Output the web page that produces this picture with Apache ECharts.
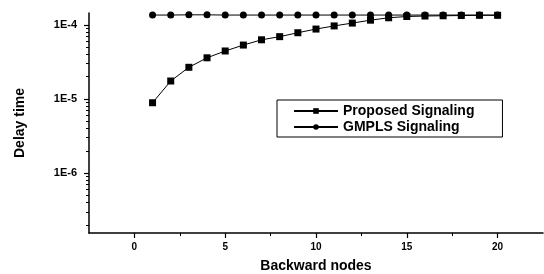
<!DOCTYPE html>
<html>
<head>
<meta charset="utf-8">
<script src="https://cdn.jsdelivr.net/npm/echarts@6/dist/echarts.min.js"></script>
<style>
    html, body { margin: 0; padding: 0; background: #fff; }
    #chart { width: 544px; height: 274px; }
</style>
</head>
<body>
<div id="chart"></div>
<script>
    // 数据
    var nodes = [1, 2, 3, 4, 5, 6, 7, 8, 9, 10, 11, 12, 13, 14, 15, 16, 17, 18, 19, 20];
    var proposed = [8.9e-6, 1.75e-5, 2.68e-5, 3.6e-5, 4.45e-5, 5.35e-5, 6.3e-5, 6.95e-5, 7.85e-5, 8.8e-5,
        9.7e-5, 1.06e-4, 1.16e-4, 1.25e-4, 1.3e-4, 1.32e-4, 1.33e-4, 1.34e-4, 1.35e-4, 1.35e-4];
    var gmpls = [1.36e-4, 1.36e-4, 1.37e-4, 1.37e-4, 1.36e-4, 1.36e-4, 1.36e-4, 1.36e-4, 1.36e-4, 1.36e-4,
        1.36e-4, 1.36e-4, 1.36e-4, 1.36e-4, 1.36e-4, 1.36e-4, 1.36e-4, 1.36e-4, 1.36e-4, 1.36e-4];
    var xMajorTicks = [0, 5, 10, 15, 20];
    var xMinorTicks = [2.5, 7.5, 12.5, 17.5];
    var yMajorTicks = [1e-6, 1e-5, 1e-4];
    var yMinorTicks = [2e-7, 3e-7, 4e-7, 5e-7, 6e-7, 7e-7, 8e-7, 9e-7,
        2e-6, 3e-6, 4e-6, 5e-6, 6e-6, 7e-6, 8e-6, 9e-6,
        2e-5, 3e-5, 4e-5, 5e-5, 6e-5, 7e-5, 8e-5, 9e-5];

    var font = 'Liberation Sans, Arial, sans-serif';
    var xMin = -2.5, xMax = 22.5;
    var yMin = 1.55e-7, yMax = 1.45e-4;

    var myChart = echarts.init(document.getElementById('chart'));

    var xy = function(ys) {
        return nodes.map(function(n, i) { return [n, ys[i]]; });
    };

    var option = {
        animation: false,
        backgroundColor: '#fff',
        grid: {
            left: 89,
            top: 13,
            right: 1,
            bottom: 41,
            outerBoundsMode: 'none'
        },
        legend: {
            left: 277,
            top: 100,
            orient: 'vertical',
            data: ['Proposed Signaling', 'GMPLS Signaling'],
            itemWidth: 44,
            itemHeight: 7,
            itemGap: 2,
            padding: [4, 28, 3, 16],
            borderColor: '#000',
            borderWidth: 1,
            textStyle: {
                fontFamily: font,
                fontWeight: 'bold',
                fontSize: 14,
                color: '#000'
            }
        },
        xAxis: [{
            type: 'value',
            min: xMin,
            max: xMax,
            name: 'Backward nodes',
            nameLocation: 'middle',
            nameGap: 26,
            nameTextStyle: {
                fontFamily: font,
                fontWeight: 'bold',
                fontSize: 14,
                color: '#000'
            },
            splitLine: { show: false },
            axisLine: { onZero: false, lineStyle: { color: '#000', width: 1.5 } },
            axisTick: {
                customValues: xMajorTicks,
                length: 5,
                lineStyle: { color: '#000', width: 1.2 }
            },
            axisLabel: {
                customValues: xMajorTicks,
                margin: 9,
                fontFamily: font,
                fontWeight: 'bold',
                fontSize: 10,
                color: '#000'
            }
        }, {
            type: 'value',
            min: xMin,
            max: xMax,
            position: 'bottom',
            splitLine: { show: false },
            axisLine: { show: false, onZero: false },
            axisTick: {
                customValues: xMinorTicks,
                length: 3,
                lineStyle: { color: '#000', width: 1 }
            },
            axisLabel: { show: false }
        }],
        yAxis: [{
            type: 'log',
            min: yMin,
            max: yMax,
            name: 'Delay time',
            nameLocation: 'middle',
            nameGap: 62,
            nameTextStyle: {
                fontFamily: font,
                fontWeight: 'bold',
                fontSize: 14,
                color: '#000'
            },
            splitLine: { show: false },
            axisLine: { show: true, onZero: false, lineStyle: { color: '#000', width: 1.5 } },
            axisTick: {
                customValues: yMajorTicks,
                length: 5,
                lineStyle: { color: '#000', width: 1.2 }
            },
            axisLabel: {
                customValues: yMajorTicks,
                margin: 12,
                fontFamily: font,
                fontWeight: 'bold',
                fontSize: 11,
                color: '#000',
                formatter: function(v) {
                    return '1E' + Math.round(Math.log10(v));
                }
            }
        }, {
            type: 'log',
            min: yMin,
            max: yMax,
            position: 'left',
            splitLine: { show: false },
            axisLine: { show: false, onZero: false },
            axisTick: {
                customValues: yMinorTicks,
                length: 3,
                lineStyle: { color: '#000', width: 1 }
            },
            axisLabel: { show: false }
        }],
        series: [{
            name: 'Proposed Signaling',
            type: 'line',
            data: xy(proposed),
            symbol: 'rect',
            symbolSize: 7,
            itemStyle: { color: '#000' },
            lineStyle: { color: '#000', width: 1 }
        }, {
            name: 'GMPLS Signaling',
            type: 'line',
            data: xy(gmpls),
            symbol: 'circle',
            symbolSize: 7,
            itemStyle: { color: '#000' },
            lineStyle: { color: '#000', width: 1 }
        }]
    };

    myChart.setOption(option);
</script>
</body>
</html>
